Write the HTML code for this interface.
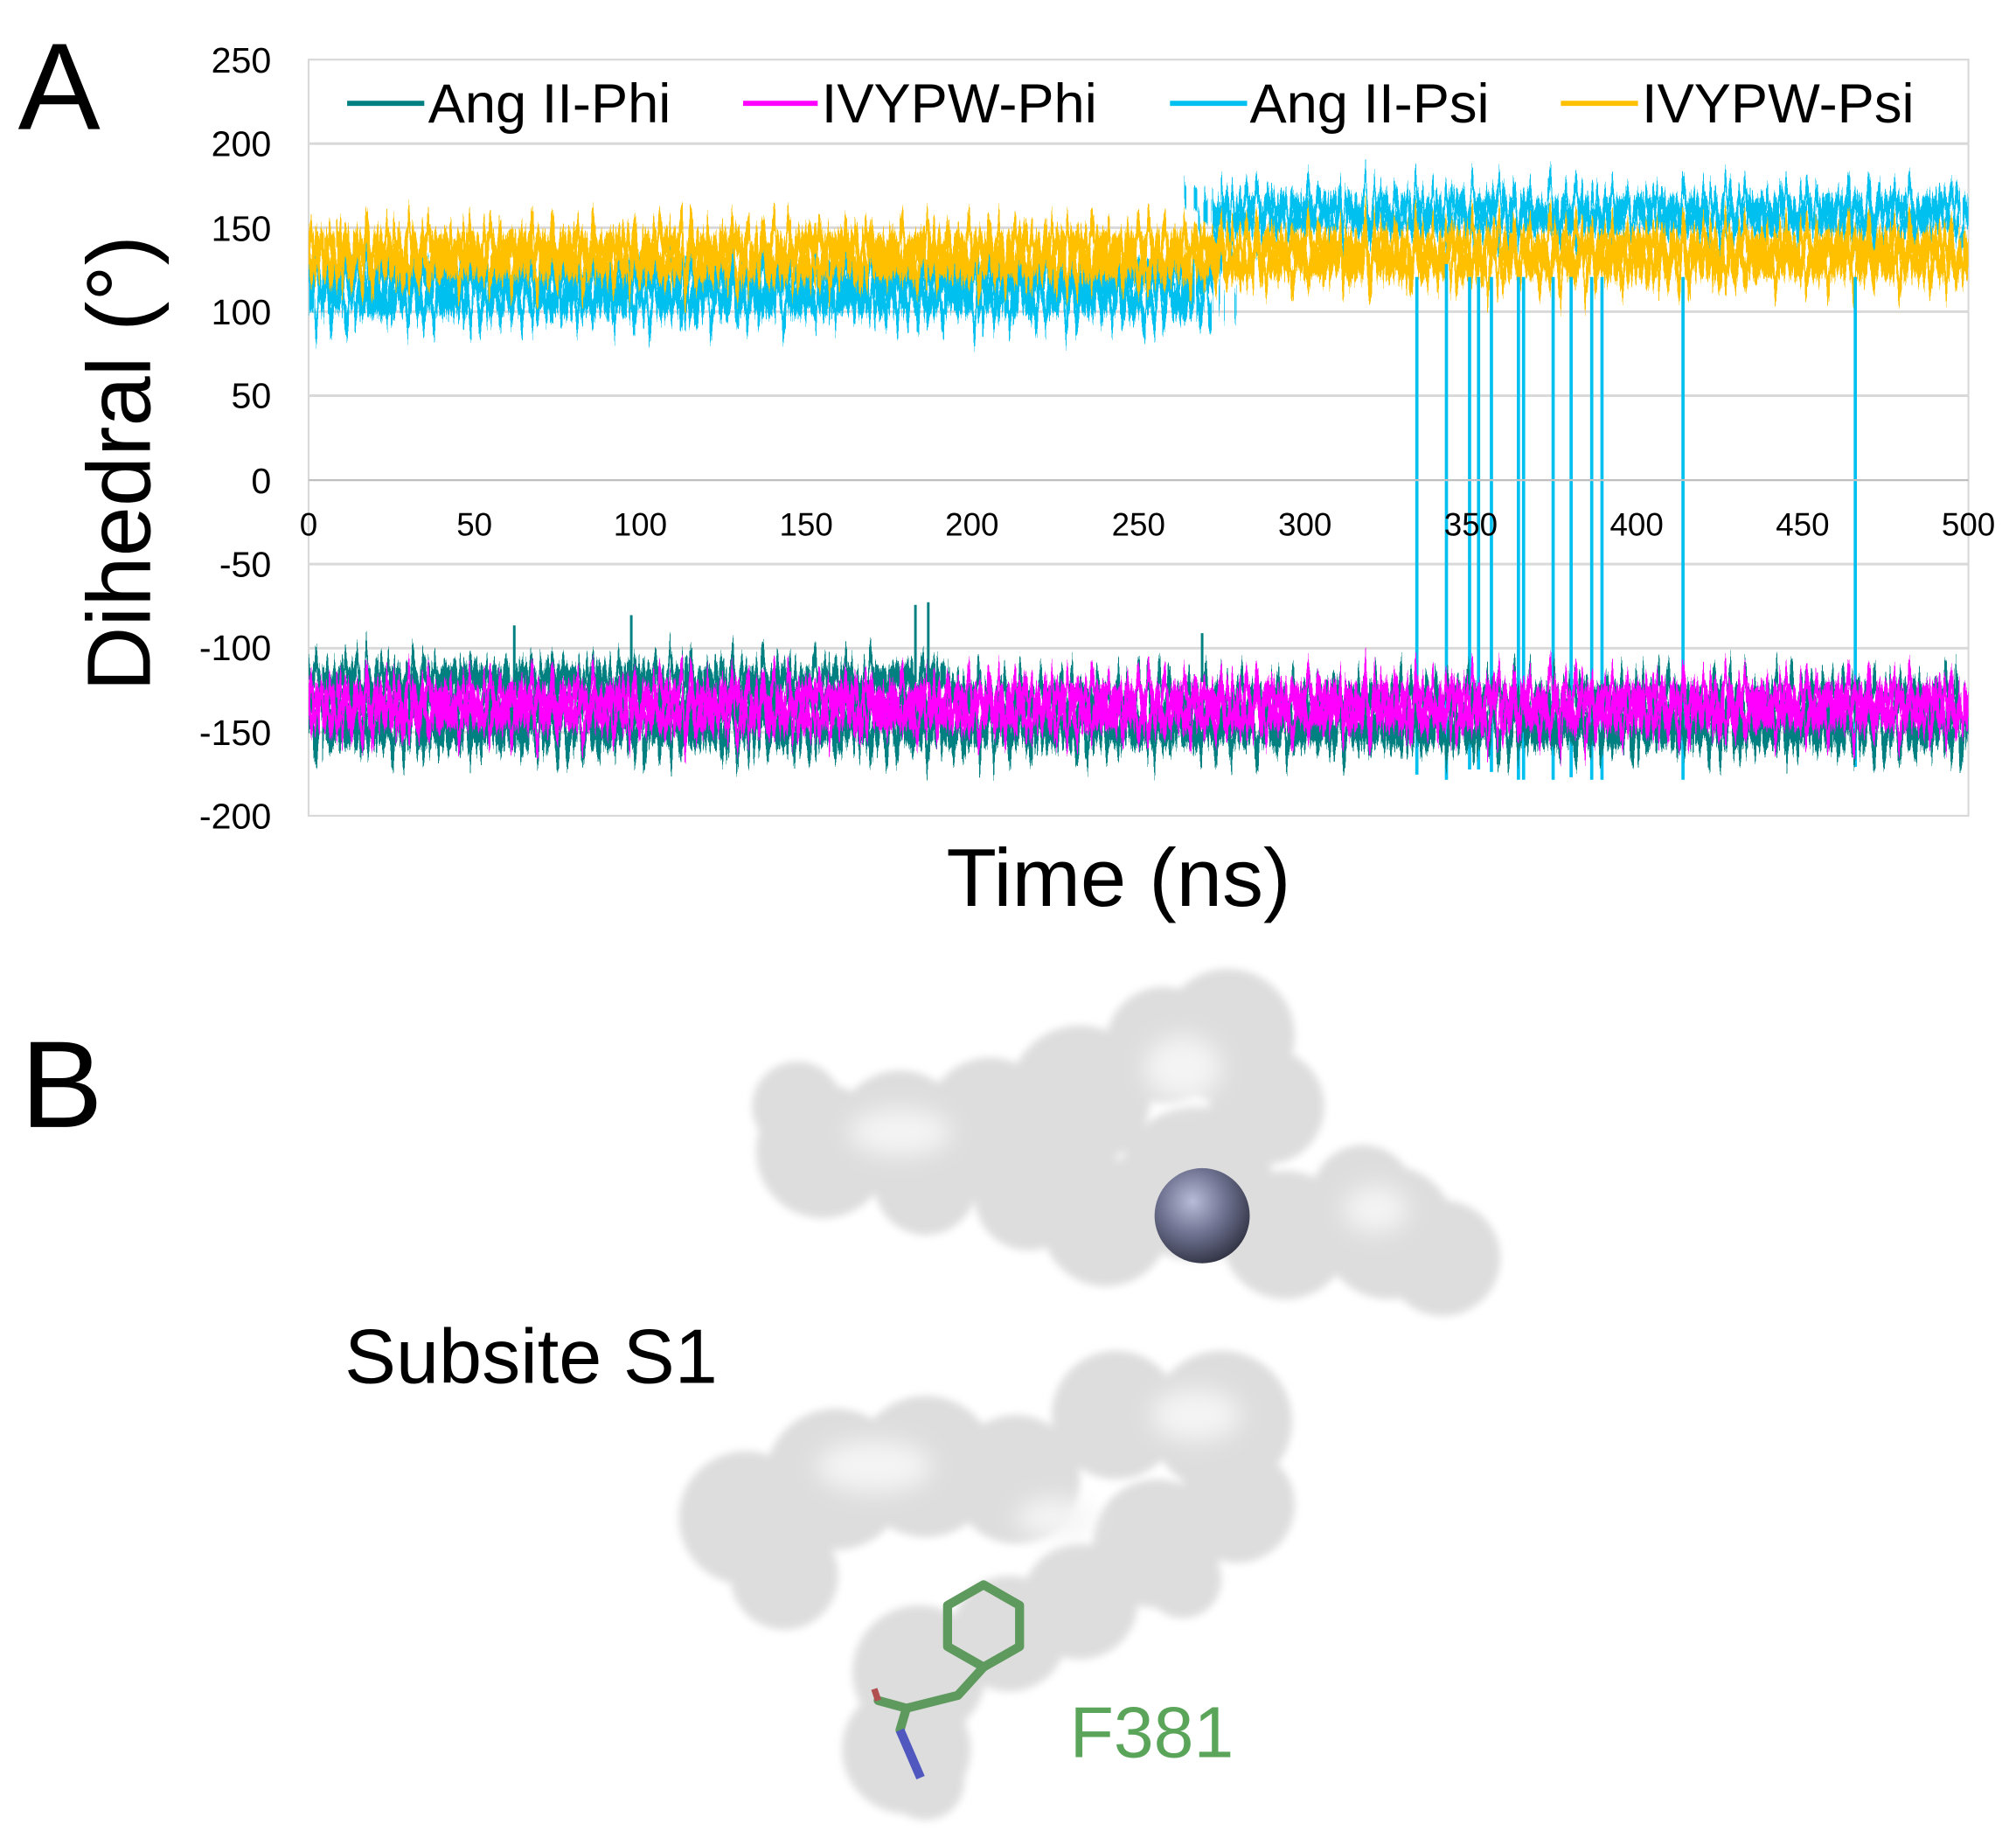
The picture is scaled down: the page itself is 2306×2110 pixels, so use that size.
<!DOCTYPE html>
<html><head><meta charset="utf-8"><style>
html,body{margin:0;padding:0;background:#fff;}
svg{display:block;font-family:"Liberation Sans",sans-serif;}
</style></head><body>
<svg xmlns="http://www.w3.org/2000/svg" width="2306" height="2110" viewBox="0 0 1568 1434">
<defs>
<filter id="bl" x="-20%" y="-20%" width="140%" height="140%"><feGaussianBlur stdDeviation="3"/></filter>
<filter id="bl2" x="-50%" y="-50%" width="200%" height="200%"><feGaussianBlur stdDeviation="9"/></filter>
<filter id="n1" filterUnits="userSpaceOnUse" x="230" y="0" width="1310" height="700"><feTurbulence type="fractalNoise" baseFrequency="0.25 0.00001" numOctaves="4" seed="1"/><feDisplacementMap in="SourceGraphic" scale="90" xChannelSelector="B" yChannelSelector="R"/></filter>
<filter id="n2" filterUnits="userSpaceOnUse" x="230" y="0" width="1310" height="700"><feTurbulence type="fractalNoise" baseFrequency="0.25 0.00001" numOctaves="4" seed="7"/><feDisplacementMap in="SourceGraphic" scale="90" xChannelSelector="B" yChannelSelector="R"/></filter>
<filter id="n3" filterUnits="userSpaceOnUse" x="230" y="0" width="1310" height="700"><feTurbulence type="fractalNoise" baseFrequency="0.25 0.00001" numOctaves="4" seed="13"/><feDisplacementMap in="SourceGraphic" scale="90" xChannelSelector="B" yChannelSelector="R"/></filter>
<filter id="n4" filterUnits="userSpaceOnUse" x="230" y="0" width="1310" height="700"><feTurbulence type="fractalNoise" baseFrequency="0.25 0.00001" numOctaves="4" seed="21"/><feDisplacementMap in="SourceGraphic" scale="90" xChannelSelector="B" yChannelSelector="R"/></filter>
<clipPath id="pc"><rect x="240" y="46" width="1291" height="588"/></clipPath>
<radialGradient id="sph" cx="0.4" cy="0.35" r="0.7"><stop offset="0" stop-color="#b8bcd8"/><stop offset="0.5" stop-color="#6e7290"/><stop offset="1" stop-color="#2e3040"/></radialGradient>
</defs>
<rect width="1568" height="1434" fill="#fff"/>
<g stroke="#d9d9d9" stroke-width="2">
<line x1="240" y1="111.3" x2="1531" y2="111.3"/><line x1="240" y1="176.7" x2="1531" y2="176.7"/><line x1="240" y1="242" x2="1531" y2="242"/><line x1="240" y1="307.3" x2="1531" y2="307.3"/><line x1="240" y1="438.3" x2="1531" y2="438.3"/><line x1="240" y1="503.7" x2="1531" y2="503.7"/><line x1="240" y1="569" x2="1531" y2="569"/>
</g>
<rect x="240" y="46" width="1291" height="588" fill="none" stroke="#d9d9d9" stroke-width="1.5"/>
<g clip-path="url(#pc)">
<g fill="#00c0f0">
<rect x="236" y="208" width="708" height="22" filter="url(#n1)"/>
<rect x="236" y="220" width="708" height="24" filter="url(#n2)"/>
<rect x="940" y="152" width="600" height="18" filter="url(#n3)"/>
<rect x="940" y="162" width="600" height="18" filter="url(#n4)"/>
</g>
<g fill="#ffc000">
<rect x="236" y="180" width="1300" height="22" filter="url(#n3)"/>
<rect x="236" y="192" width="1300" height="24" filter="url(#n1)"/>
</g>
<g stroke="#00c0f0" stroke-width="2.5">
<line x1="1102" y1="215" x2="1102" y2="602"/><line x1="1125" y1="205" x2="1125" y2="606"/><line x1="1143" y1="215" x2="1143" y2="598"/><line x1="1150" y1="215" x2="1150" y2="598"/><line x1="1160" y1="215" x2="1160" y2="600"/><line x1="1181" y1="215" x2="1181" y2="606"/><line x1="1185" y1="215" x2="1185" y2="606"/><line x1="1208" y1="215" x2="1208" y2="606"/><line x1="1222" y1="215" x2="1222" y2="604"/><line x1="1238" y1="215" x2="1238" y2="606"/><line x1="1246" y1="215" x2="1246" y2="606"/><line x1="1309" y1="215" x2="1309" y2="606"/><line x1="1443" y1="215" x2="1443" y2="596"/>
</g>
<g fill="#008080">
<rect x="236" y="532" width="1300" height="24" filter="url(#n2)"/>
<rect x="236" y="552" width="1300" height="28" filter="url(#n4)"/>
<rect x="236" y="518" width="500" height="20" filter="url(#n1)"/>
</g>
<g fill="#ff00ff">
<rect x="236" y="532" width="1300" height="20" filter="url(#n3)"/>
<rect x="236" y="546" width="1300" height="20" filter="url(#n1)"/>
</g>
<g stroke="#008080" stroke-width="2"><line x1="400" y1="486" x2="400" y2="530"/><line x1="491" y1="478" x2="491" y2="530"/><line x1="712" y1="470" x2="712" y2="530"/><line x1="722" y1="468" x2="722" y2="530"/><line x1="935" y1="492" x2="935" y2="530"/></g>
</g>
<line x1="240" y1="373" x2="1531" y2="373" stroke="#bfbfbf" stroke-width="1.5"/>
<g font-size="28" fill="#000" text-anchor="end">
<text x="211" y="56">250</text><text x="211" y="121">200</text><text x="211" y="187">150</text><text x="211" y="252">100</text><text x="211" y="317">50</text><text x="211" y="383">0</text><text x="211" y="448">-50</text><text x="211" y="513">-100</text><text x="211" y="579">-150</text><text x="211" y="644">-200</text>
</g>
<g font-size="25" fill="#000" text-anchor="middle">
<text x="240" y="416">0</text><text x="369" y="416">50</text><text x="498" y="416">100</text><text x="627" y="416">150</text><text x="756" y="416">200</text><text x="885.5" y="416">250</text><text x="1015" y="416">300</text><text x="1144" y="416">350</text><text x="1273" y="416">400</text><text x="1402" y="416">450</text><text x="1531" y="416">500</text>
</g>
<rect x="252" y="56" width="1268" height="50" fill="#fff"/>
<g font-size="43" fill="#000">
<line x1="270" y1="80" x2="330" y2="80" stroke="#008080" stroke-width="4"/><text x="333" y="95">Ang II-Phi</text>
<line x1="578" y1="80" x2="636" y2="80" stroke="#ff00ff" stroke-width="4"/><text x="639" y="95">IVYPW-Phi</text>
<line x1="910" y1="80" x2="970" y2="80" stroke="#00c0f0" stroke-width="4"/><text x="972" y="95">Ang II-Psi</text>
<line x1="1214" y1="80" x2="1274" y2="80" stroke="#ffc000" stroke-width="4"/><text x="1277" y="95">IVYPW-Psi</text>
</g>
<text x="98" y="360" font-size="70" text-anchor="middle" transform="rotate(-90 98 360)" dominant-baseline="middle">Dihedral (°)</text>
<text x="870" y="704" font-size="64" text-anchor="middle">Time (ns)</text>
<text x="14" y="100" font-size="96">A</text>
<text x="16" y="876" font-size="96">B</text>
<g filter="url(#bl)" fill="#dcdcdc" opacity="0.95">
<circle cx="640" cy="895" r="52"/><circle cx="700" cy="882" r="50"/><circle cx="770" cy="872" r="50"/><circle cx="840" cy="852" r="55"/><circle cx="905" cy="812" r="45"/><circle cx="955" cy="805" r="52"/><circle cx="985" cy="860" r="45"/><circle cx="930" cy="920" r="60"/><circle cx="860" cy="950" r="50"/><circle cx="1000" cy="960" r="50"/><circle cx="1080" cy="958" r="52"/><circle cx="1122" cy="978" r="45"/><circle cx="1060" cy="930" r="40"/><circle cx="800" cy="930" r="42"/><circle cx="720" cy="920" r="40"/><circle cx="620" cy="860" r="35"/>
<circle cx="580" cy="1180" r="52"/><circle cx="650" cy="1150" r="55"/><circle cx="720" cy="1140" r="55"/><circle cx="790" cy="1150" r="50"/><circle cx="868" cy="1100" r="50"/><circle cx="950" cy="1105" r="55"/><circle cx="962" cy="1170" r="45"/><circle cx="900" cy="1200" r="50"/><circle cx="840" cy="1245" r="45"/><circle cx="785" cy="1270" r="45"/><circle cx="715" cy="1300" r="52"/><circle cx="705" cy="1360" r="50"/><circle cx="720" cy="1385" r="30"/><circle cx="610" cy="1225" r="42"/><circle cx="920" cy="1228" r="30"/>
</g>
<g filter="url(#bl2)" fill="#f4f4f4">
<ellipse cx="700" cy="880" rx="40" ry="18"/><ellipse cx="920" cy="830" rx="30" ry="25"/><ellipse cx="1070" cy="940" rx="25" ry="18"/><ellipse cx="680" cy="1140" rx="45" ry="20"/><ellipse cx="930" cy="1100" rx="35" ry="20"/><ellipse cx="820" cy="1180" rx="30" ry="15"/>
</g>
<circle cx="935" cy="945" r="37" fill="url(#sph)"/>
<g stroke="#5e9a5e" stroke-width="7" fill="none" stroke-linejoin="round" stroke-linecap="round">
<polygon points="765,1232 793,1248 793,1280 765,1296 737,1280 737,1248"/>
<polyline points="765,1296 745,1318 705,1328 700,1345"/>
<line x1="705" y1="1328" x2="683" y2="1322"/>
</g>
<line x1="700" y1="1345" x2="716" y2="1382" stroke="#5058c0" stroke-width="7"/>
<line x1="683" y1="1322" x2="680" y2="1313" stroke="#b05050" stroke-width="5"/>
<text x="268" y="1075" font-size="60" fill="#000">Subsite S1</text>
<text x="832" y="1366" font-size="56" fill="#5aa55a">F381</text>
</svg>
</body></html>
